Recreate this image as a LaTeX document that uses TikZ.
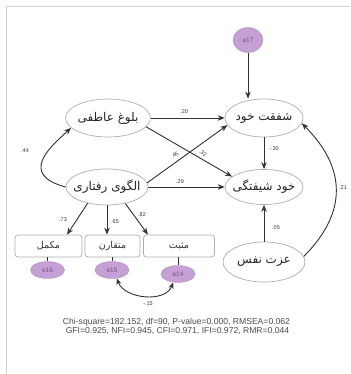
\documentclass[tikz,border=0pt]{standalone}
\usepackage{fontspec}
\setmainfont{Liberation Sans}
\newfontfamily\fafont[Script=Arabic]{DejaVu Sans}
\TeXXeTstate=1
\usetikzlibrary{arrows.meta,shapes.geometric}
\definecolor{errfill}{RGB}{196,160,212}
\definecolor{errtext}{RGB}{118,78,140}
\definecolor{lineclr}{RGB}{50,50,50}
\definecolor{shapeclr}{RGB}{175,175,175}
\newcommand\pe[1]{{\fafont\beginR #1\endR}}
\begin{document}
\begin{tikzpicture}[x=1pt,y=1pt,
  lat/.style={ellipse, draw=shapeclr, line width=0.7pt, fill=white, inner xsep=-8pt, inner ysep=0pt,
    minimum width=#1, minimum height=38pt, text=black!85,
    font=\fontsize{12}{14}\selectfont},
  obs/.style={rectangle, rounded corners=3pt, draw=shapeclr, line width=0.7pt, fill=white,
    minimum width=#1, minimum height=22pt, inner sep=0pt, text=black!80,
    font=\fontsize{9.5}{11}\selectfont},
  err/.style={ellipse, fill=errfill, draw=errfill!85!black, line width=0.3pt,
    minimum width=34pt, minimum height=17pt, inner sep=0pt, text=errtext,
    font=\fontsize{6.5}{7}\selectfont},
  path/.style={draw=lineclr, line width=0.9pt, -{Stealth[length=7pt,width=5.5pt]}},
  link/.style={draw=lineclr, line width=0.6pt},
  coef/.style={inner sep=0.5pt, text=black!80, font=\fontsize{5.5}{6}\selectfont},
  fit/.style={inner sep=0pt, text=black!70, font=\fontsize{8.6}{9.6}\selectfont, align=center}
]
\useasboundingbox (0,0) rectangle (350,374);
\fill[white] (0,0) rectangle (350,374);
% frame
\draw[draw=black!18, line width=1pt] (6,0) -- (6,367) -- (350,367);

% nodes
\node[lat=85pt] (bul) at (108,256) {\pe{بلوغ عاطفی}};
\node[lat=78pt] (shaf) at (264,256) {\pe{شفقت خود}};
\node[lat=82pt, minimum height=36pt] (alg) at (107,187) {\pe{الگوی رفتاری}};
\node[lat=78pt, minimum height=35pt] (shy) at (264,187) {\pe{خود شیفتگی}};
\node[lat=82pt, minimum height=40pt] (azt) at (264,112) {\pe{عزت نفس}};
\node[err, minimum width=30pt, minimum height=25pt] (e17) at (248,334) {e17};

\node[obs=67pt] (m1) at (48.5,128) {\pe{مکمل}};
\node[obs=55pt] (m2) at (112.5,128) {\pe{متقارن}};
\node[obs=71pt] (m3) at (179,128) {\pe{مثبت}};

\node[err] (e16) at (47.5,104) {e16};
\node[err] (e15) at (112,104) {e15};
\node[err] (e14) at (178,100) {e14};

% connectors
\draw[path] (e17.south) -- (e17.south |- shaf.north);
\draw[path] (bul.east) -- (shaf.west) node[coef, pos=0.45, above=3pt] {.20};
\draw[path] (bul.-13) -- (shy.162);
\draw[path] (alg.6) -- (shaf.191);
\draw[path] (alg.east) -- (shy.west);
\draw[path] (shaf.south) -- (shy.north);
\draw[path] (azt.north) -- (shy.south);
\draw[path] (alg.180) to[out=165, in=222, out distance=48pt, in distance=30pt] (bul.195);
\draw[path] (azt.8) to[out=45, in=-45, looseness=1.2] (shaf.-8);
\draw[path] (alg.220) -- ([xshift=18.5pt]m1.north);
\draw[path] (alg.south) -- (alg.south |- m2.north);
\draw[path] (alg.318) -- ([xshift=-31pt]m3.north);
\draw[link] (e16.north |- m1.south) -- (e16.north);
\draw[link] (e15.north |- m2.south) -- (e15.north);
\draw[link] (e14.north |- m3.south) -- (e14.north);
\draw[draw=lineclr, line width=0.9pt, {Stealth[length=6.5pt,width=5pt]}-{Stealth[length=6.5pt,width=5pt]}]
  (e15.-60) to[out=-70, in=-110] (e14.-120);

% coefficient labels
\node[coef, rotate=36] (c45) at (175,219) {.45};
\node[coef, rotate=-31] (c32) at (203,221) {.32};
\node[coef] (c29) at (180,192) {.29};
\node[coef] (c30) at (274,225) {-.30};
\node[coef] (c05) at (276,146) {.05};
\node[coef] (c21) at (343,186) {.21};
\node[coef] (c44) at (25,223) {.44};
\node[coef] (c73) at (63,154) {.73};
\node[coef] (c65) at (115,152) {.65};
\node[coef] (c82) at (142,159) {.82};
\node[coef] (c15) at (148,70) {-.15};

% fit indices
\node[fit] (fitA) at (176.5,52) {Chi-square=182.152, df=90, P-value=0.000, RMSEA=0.062};
\node[fit] (fitB) at (177.5,43) {GFI=0.925, NFI=0.945, CFI=0.971, IFI=0.972, RMR=0.044};
\end{tikzpicture}
\end{document}
